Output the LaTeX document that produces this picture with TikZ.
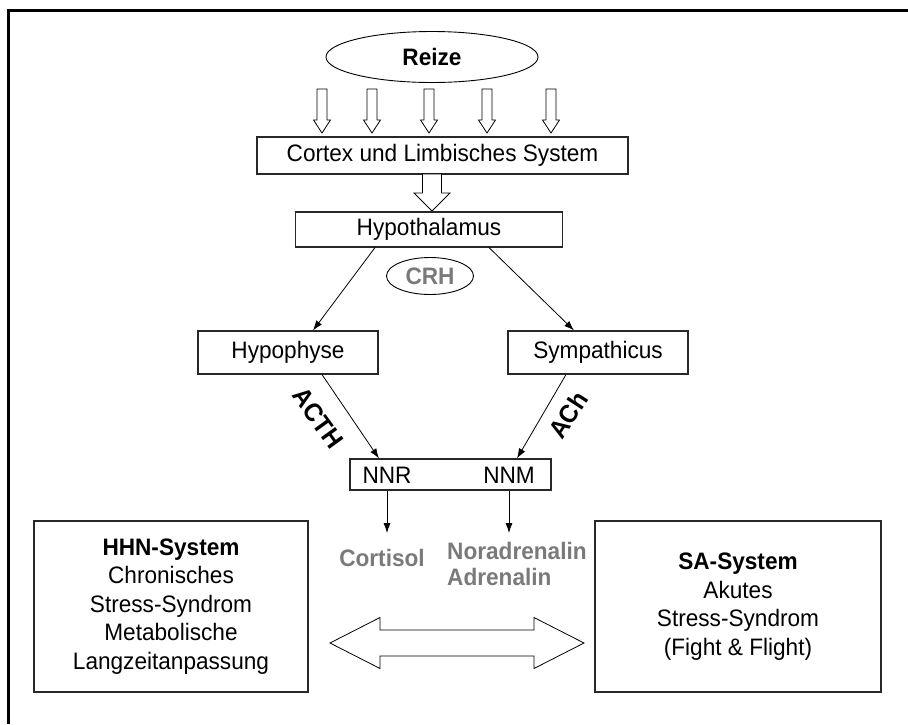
\documentclass[tikz,border=0pt]{standalone}
\usepackage{fontspec}
\setmainfont[FakeStretch=0.95]{Liberation Sans}
\usetikzlibrary{shapes.geometric,arrows.meta}
\definecolor{txtgray}{RGB}{122,122,122}
\definecolor{boxline}{RGB}{40,40,40}
\newcommand\dnblock[6]{%
  \draw[blockline] (#1-#4,#2) -- (#1+#4,#2) -- (#1+#4,#3-#6) -- (#1+#5,#3-#6)
    -- (#1,#3) -- (#1-#5,#3-#6) -- (#1-#4,#3-#6) -- cycle;}
\tikzset{
  every node/.style={font=\fontsize{23.8pt}{28.5pt}\selectfont},
  box/.style={draw=boxline, line width=1.1pt, inner sep=0pt, align=center},
  oval/.style={draw=black, line width=0.9pt, ellipse, inner sep=0pt},
  blockline/.style={draw=black, line width=0.8pt, fill=white, line join=miter},
  arr/.style={draw=black, line width=0.8pt, -{Latex[length=10pt,width=7pt]}},
  graytxt/.style={text=txtgray, font=\fontsize{23.8pt}{26pt}\selectfont\bfseries},
  lbl/.style={font=\fontsize{25.5pt}{26pt}\selectfont\bfseries, inner sep=0pt},
}
\begin{document}
\begin{tikzpicture}[x=1pt,y=-1pt]
\useasboundingbox (0,0) rectangle (908,724);
% outer frame
\draw[line width=3pt] (8,724) -- (8,10) -- (908,10);

% nodes
\node[oval, minimum width=212pt, minimum height=51pt] (reize) at (432,57) {\bfseries Reize};
\node[box, minimum width=371pt, minimum height=37pt] (cortex) at (442.5,155.5) {Cortex und Limbisches System};
\node[box, minimum width=267pt, minimum height=35pt] (hypoth) at (429,229.5) {Hypothalamus};
\node[oval, minimum width=87pt, minimum height=37pt] (crh) at (430,276) {\textcolor{txtgray}{\bfseries CRH}};
\node[box, minimum width=180pt, minimum height=43pt] (hypoph) at (288,352.5) {Hypophyse};
\node[box, minimum width=180pt, minimum height=43pt] (symp) at (598,352.5) {Sympathicus};
\node[box, minimum width=201pt, minimum height=31pt] (nn) at (450.5,474.5) {};
\node (nnr) at (387,475) {NNR};
\node (nnm) at (509,475) {NNM};
\node[graytxt, anchor=base, inner sep=0pt] (cortisol) at (382,566) {Cortisol};
\node[graytxt, anchor=north west, align=left, inner sep=0pt] (nora) at (447,542) {Noradrenalin\\Adrenalin};
\node[box, minimum width=274pt, minimum height=171pt] (hhn) at (171,606.5)
  {{\bfseries HHN-System}\\Chronisches\\Stress-Syndrom\\Metabolische\\Langzeitanpassung};
\node[box, minimum width=286pt, minimum height=171pt] (sa) at (738,606.5)
  {{\bfseries SA-System}\\Akutes\\Stress-Syndrom\\(Fight \& Flight)};
\node[lbl, rotate=-54] (acth) at (318,418) {ACTH};
\node[lbl, rotate=57] (ach) at (568,415) {ACh};

% small block arrows from Reize to Cortex
\foreach \xx in {322,372,429,487,551}{\dnblock{\xx}{89}{133}{5}{8.5}{13}}

% big block arrow Cortex -> Hypothalamus
\dnblock{432}{174}{211}{9.5}{18}{18}

% thin arrows
\draw[arr] ([xshift=-54pt]hypoth.south) -- ([xshift=25pt]hypoph.north);
\draw[arr] ([xshift=60pt]hypoth.south) -- ([xshift=-24pt]symp.north);
\draw[arr] ([xshift=34pt]hypoph.south) -- ([xshift=-71.5pt]nn.north);
\draw[arr] ([xshift=-32pt]symp.south) -- ([xshift=66.5pt]nn.north);
\draw[arr] (nnr.south |- nn.south) -- (387,533) coordinate (cortisoltip);
\draw[arr] (nnm.south |- nn.south) -- (509,533) coordinate (noratip);

% double block arrow between HHN and SA
\coordinate (darr) at (457,643);
\draw[blockline] ([xshift=-127pt]darr) -- ([xshift=-77pt,yshift=-25.5pt]darr)
  -- ([xshift=-77pt,yshift=-13pt]darr) -- ([xshift=77pt,yshift=-13pt]darr)
  -- ([xshift=77pt,yshift=-25.5pt]darr) -- ([xshift=127pt]darr)
  -- ([xshift=77pt,yshift=25.5pt]darr) -- ([xshift=77pt,yshift=13pt]darr)
  -- ([xshift=-77pt,yshift=13pt]darr) -- ([xshift=-77pt,yshift=25.5pt]darr) -- cycle;
\end{tikzpicture}
\end{document}
